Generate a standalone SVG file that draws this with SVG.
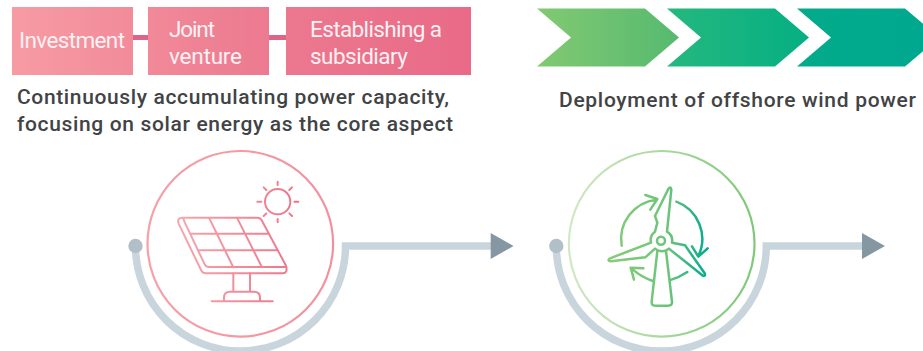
<svg xmlns="http://www.w3.org/2000/svg" width="923" height="351" viewBox="0 0 923 351">
<style>
.box{font:400 22.500px Roboto,"Liberation Sans",sans-serif;fill:#fff1f3}
.cap{font:500 21px Roboto,"Liberation Sans",sans-serif;fill:#414345}
.track{fill:none;stroke:#c9d5dc;stroke-width:7.500}
.dot{fill:#b1bfc9}
.head{fill:#8497a3}
.solar{fill:none;stroke:url(#gS);stroke-width:6;stroke-linecap:round;stroke-linejoin:round}
.wind{fill:none;stroke:url(#gW);stroke-width:7.500;stroke-linecap:round;stroke-linejoin:round}
</style>
<defs>
<linearGradient id="gB" gradientUnits="userSpaceOnUse" x1="12" y1="0" x2="471" y2="0"><stop offset="0" stop-color="#f79ba3"/><stop offset=".55" stop-color="#ec7a90"/><stop offset="1" stop-color="#e96a87"/></linearGradient>
<linearGradient id="g1" gradientUnits="userSpaceOnUse" x1="537" y1="0" x2="679" y2="0"><stop offset="0" stop-color="#82c972"/><stop offset="1" stop-color="#56ba70"/></linearGradient>
<linearGradient id="g2" gradientUnits="userSpaceOnUse" x1="667" y1="0" x2="809" y2="0"><stop offset="0" stop-color="#25b87f"/><stop offset="1" stop-color="#05af82"/></linearGradient>
<linearGradient id="g3" gradientUnits="userSpaceOnUse" x1="797" y1="0" x2="923" y2="0"><stop offset="0" stop-color="#03ab8b"/><stop offset="1" stop-color="#00a88f"/></linearGradient>
<linearGradient id="gC1" gradientUnits="userSpaceOnUse" x1="147" y1="0" x2="333" y2="0"><stop offset="0" stop-color="#f6a0a8"/><stop offset="1" stop-color="#f2919e"/></linearGradient>
<linearGradient id="gC2" gradientUnits="userSpaceOnUse" x1="568" y1="0" x2="755" y2="0"><stop offset="0" stop-color="#d3e8c6"/><stop offset="1" stop-color="#7ec878"/></linearGradient>
<linearGradient id="gS" gradientUnits="userSpaceOnUse" x1="175" y1="0" x2="535" y2="0"><stop offset="0" stop-color="#f7a6ad"/><stop offset="1" stop-color="#ec7489"/></linearGradient>
<linearGradient id="gW" gradientUnits="userSpaceOnUse" x1="205" y1="0" x2="505" y2="0"><stop offset="0" stop-color="#86cc78"/><stop offset=".6" stop-color="#6cc47a"/><stop offset="1" stop-color="#00a98e"/></linearGradient>
</defs>
<g id="connectors">
<rect x="133" y="35" width="15" height="5" fill="#de6585"/>
<rect x="269" y="35" width="17" height="5" fill="#de6585"/>
<path class="track" d="M135.500 246A105 105 0 0 0 345.500 246H492"/>
<path class="track" d="M556.300 246A105 105 0 0 0 766.300 246H863"/>
<polygon class="head" points="490.700,233 513.500,246 490.700,259"/>
<polygon class="head" points="862,233 885,246 862,259"/>
<circle class="dot" cx="135.500" cy="246" r="7.200"/>
<circle class="dot" cx="556.300" cy="246" r="7.200"/>
</g>
<g id="investment"><rect x="12" y="7" width="121" height="68" fill="url(#gB)"/><text class="box" x="19" y="48" textLength="106">Investment</text></g>
<g id="joint-venture"><rect x="148" y="7" width="121" height="68" fill="url(#gB)"/><text class="box" x="169" y="37" textLength="46">Joint</text><text class="box" x="169" y="63.500" textLength="73">venture</text></g>
<g id="subsidiary"><rect x="286" y="7" width="185" height="68" fill="url(#gB)"/><text class="box" x="310" y="37" textLength="132">Establishing a</text><text class="box" x="310" y="63.500" textLength="98">subsidiary</text></g>
<g id="solar-caption"><text class="cap" x="17" y="104" textLength="432">Continuously accumulating power capacity,</text><text class="cap" x="17" y="131" textLength="436">focusing on solar energy as the core aspect</text></g>
<g id="chevrons">
<polygon fill="url(#g1)" points="537,8.500 645,8.500 679,37.500 645,66.500 537,66.500 571,37.500"/>
<polygon fill="url(#g2)" points="667,8.500 775,8.500 809,37.500 775,66.500 667,66.500 701,37.500"/>
<polygon fill="url(#g3)" points="797,8.500 905,8.500 939,37.500 905,66.500 797,66.500 831,37.500"/>
</g>
<g id="wind-caption"><text class="cap" x="559" y="107" textLength="357">Deployment of offshore wind power</text></g>
<g id="solar-node">
<circle cx="240.300" cy="243.800" r="92.800" fill="#fff" stroke="url(#gC1)" stroke-width="2.200"/>
<g transform="translate(120 145) scale(.33333)" class="solar">
<circle cx="473" cy="170" r="38"/>
<path d="M473 110V120M473 222V232M412 170H424M523 170H535M431 127L439 135M516 127L508 135M431 213L439 205M516 213L508 205"/>
<path d="M188 218H412Q421 218 425 226L498 362Q504 385 488 385H258Q248 385 244 377L176 236Q170 218 188 218Z"/>
<path d="M190 220Q192 228 196 236L254 358Q258 366 268 366H495"/>
<path d="M212 266H445M238 316H470M268 220L340 367M352 220L425 365"/>
<path d="M340 385V440M390 385V440M312 468V458Q312 440 330 440H402Q420 440 420 458V468M275 469H458"/>
</g>
</g>
<g id="wind-node">
<circle cx="661.700" cy="243.800" r="92.800" fill="#fff" stroke="url(#gC2)" stroke-width="2.200"/>
<g transform="translate(540 145) scale(.33333)" class="wind">
<circle cx="363" cy="287" r="12"/>
<path d="M333 293A32 32 0 0 1 345 260L352 233L345 213L385 132Q392 122 394 134L381 260A32 32 0 0 1 396 293L435 301L494 385Q498 396 487 391L387 311A32 32 0 0 1 345 311L316 337L213 349Q200 347 210 340Z"/>
<path d="M352 318L335 470Q334 482 345 482H385Q397 482 396 470L378 318"/>
<path d="M245 302A119 119 0 0 1 350 164M316 150L352 162L331 194"/>
<path d="M409 170A119 119 0 0 1 475 333M456 304L475 335L503 310"/>
<path d="M442 381Q418 397 391 405M339 408Q305 397 274 370M310 370L272 368L282 404"/>
</g>
</g>
</svg>
